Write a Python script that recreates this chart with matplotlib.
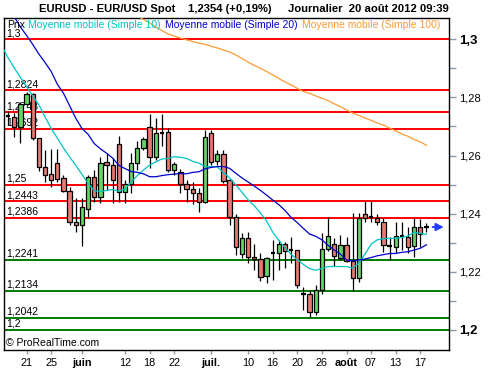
import numpy as np
import pandas as pd
import matplotlib
matplotlib.use("Agg")
import matplotlib.pyplot as plt
from matplotlib.patches import Rectangle
from matplotlib.transforms import blended_transform_factory
from matplotlib.ticker import FixedLocator, FuncFormatter

plt.rcParams['font.family'] = ['Liberation Sans', 'DejaVu Sans']

nan = np.nan
dates = pd.bdate_range("2012-05-15", "2012-08-20")

opens = [nan, 1.2738, 1.2732, 1.2697, 1.2777, 1.2812, 1.2659, 1.2560, 1.2537, 1.2573,
         1.2522, 1.2479, 1.2373, 1.2361, 1.2415, 1.2525, 1.2459, 1.2576, 1.2568, 1.2640,
         1.2476, 1.2502, 1.2575, 1.2626, 1.2698, 1.2595, 1.2678, 1.2681, 1.2550, 1.2543,
         1.2502, 1.2485, 1.2471, 1.2440, 1.2678, 1.2581, 1.2605, 1.2516, 1.2390, 1.2261,
         1.2315, 1.2252, 1.2243, 1.2186, 1.2267, 1.2264, 1.2296, 1.2275, 1.2275, 1.2123,
         1.2124, 1.2060, 1.2138, 1.2279, 1.2295, 1.2247, 1.2292, 1.2237, 1.2178, 1.2399,
         1.2388, 1.2386, 1.2370, 1.2290, 1.2287, 1.2324, 1.2321, 1.2290, 1.2355, 1.2350]
highs = [nan, 1.2753, 1.2746, 1.2785, 1.2820, 1.2816, 1.2660, 1.2619, 1.2623, 1.2624,
         1.2533, 1.2493, 1.2454, 1.2453, 1.2533, 1.2550, 1.2596, 1.2609, 1.2592, 1.2667,
         1.2516, 1.2609, 1.2650, 1.2664, 1.2743, 1.2729, 1.2743, 1.2695, 1.2578, 1.2554,
         1.2516, 1.2509, 1.2488, 1.2688, 1.2688, 1.2619, 1.2619, 1.2520, 1.2399, 1.2333,
         1.2338, 1.2296, 1.2264, 1.2252, 1.2310, 1.2310, 1.2304, 1.2321, 1.2276, 1.2147,
         1.2138, 1.2155, 1.2333, 1.2390, 1.2316, 1.2327, 1.2321, 1.2401, 1.2401, 1.2444,
         1.2444, 1.2398, 1.2384, 1.2321, 1.2370, 1.2372, 1.2355, 1.2384, 1.2382, 1.2367]
lows = [nan, 1.2705, 1.2664, 1.2643, 1.2775, 1.2654, 1.2545, 1.2510, 1.2493, 1.2510,
        1.2473, 1.2361, 1.2338, 1.2289, 1.2384, 1.2441, 1.2438, 1.2482, 1.2437, 1.2440,
        1.2438, 1.2471, 1.2550, 1.2619, 1.2557, 1.2585, 1.2633, 1.2543, 1.2533, 1.2471,
        1.2440, 1.2433, 1.2406, 1.2437, 1.2568, 1.2568, 1.2505, 1.2361, 1.2258, 1.2247,
        1.2231, 1.2206, 1.2170, 1.2161, 1.2172, 1.2206, 1.2212, 1.2229, 1.2143, 1.2069,
        1.2044, 1.2052, 1.2124, 1.2272, 1.2221, 1.2241, 1.2234, 1.2134, 1.2164, 1.2370,
        1.2370, 1.2361, 1.2269, 1.2241, 1.2264, 1.2275, 1.2264, 1.2252, 1.2287, 1.2336]
closes = [nan, 1.2735, 1.2697, 1.2777, 1.2812, 1.2659, 1.2560, 1.2533, 1.2516, 1.2519,
          1.2477, 1.2372, 1.2361, 1.2422, 1.2525, 1.2459, 1.2573, 1.2568, 1.2516, 1.2475,
          1.2501, 1.2575, 1.2626, 1.2657, 1.2595, 1.2678, 1.2676, 1.2550, 1.2571, 1.2502,
          1.2485, 1.2471, 1.2440, 1.2664, 1.2578, 1.2605, 1.2514, 1.2390, 1.2284, 1.2315,
          1.2252, 1.2243, 1.2183, 1.2247, 1.2266, 1.2296, 1.2273, 1.2274, 1.2155, 1.2122,
          1.2060, 1.2138, 1.2279, 1.2323, 1.2256, 1.2292, 1.2237, 1.2178, 1.2386, 1.2386,
          1.2387, 1.2370, 1.2292, 1.2289, 1.2324, 1.2323, 1.2287, 1.2355, 1.2329, 1.2354]

sma10 = [1.2975, 1.2936, 1.2901, 1.2869, 1.2837, 1.2805, 1.2774, 1.2733, 1.2693, 1.2660,
         1.2626, 1.2595, 1.2566, 1.2535, 1.2504, 1.2479, 1.2476, 1.2480, 1.2483, 1.2477,
         1.2485, 1.2509, 1.2531, 1.2550, 1.2567, 1.2578, 1.2588, 1.2590, 1.2596, 1.2594,
         1.2590, 1.2580, 1.2574, 1.2562, 1.2562, 1.2561, 1.2541, 1.2523, 1.2499, 1.2474,
         1.2448, 1.2427, 1.2403, 1.2375, 1.2337, 1.2308, 1.2283, 1.2260, 1.2242, 1.2225,
         1.2211, 1.2205, 1.2212, 1.2218, 1.2218, 1.2218, 1.2218, 1.2213, 1.2230, 1.2261,
         1.2295, 1.2310, 1.2314, 1.2315, 1.2315, 1.2318, 1.2323, 1.2336, 1.2332, 1.2329]
sma20 = [nan, nan, 1.3077, 1.3042, 1.3013, 1.2982, 1.2949, 1.2920, 1.2889, 1.2845,
         1.2814, 1.2771, 1.2728, 1.2693, 1.2673, 1.2641, 1.2623, 1.2608, 1.2591, 1.2566,
         1.2555, 1.2545, 1.2542, 1.2537, 1.2527, 1.2527, 1.2531, 1.2534, 1.2536, 1.2538,
         1.2537, 1.2542, 1.2544, 1.2554, 1.2559, 1.2562, 1.2562, 1.2556, 1.2539, 1.2523,
         1.2509, 1.2495, 1.2480, 1.2464, 1.2447, 1.2431, 1.2411, 1.2387, 1.2369, 1.2349,
         1.2330, 1.2322, 1.2310, 1.2291, 1.2275, 1.2261, 1.2241, 1.2237, 1.2241, 1.2244,
         1.2249, 1.2255, 1.2259, 1.2263, 1.2263, 1.2267, 1.2269, 1.2275, 1.2281, 1.2293]
sma100 = [nan] * 22 + [1.3080, 1.3068, 1.3056, 1.3042, 1.3030, 1.3018, 1.3011, 1.3004,
                       1.2998, 1.2992, 1.2987, 1.2982, 1.2976, 1.2970, 1.2963, 1.2956,
                       1.2946, 1.2934, 1.2921, 1.2910, 1.2900, 1.2889, 1.2877, 1.2865,
                       1.2853, 1.2843, 1.2831, 1.2820, 1.2814, 1.2805, 1.2797, 1.2789,
                       1.2778, 1.2768, 1.2757, 1.2746, 1.2738, 1.2729, 1.2721, 1.2712,
                       1.2705, 1.2694, 1.2685, 1.2674, 1.2666, 1.2655, 1.2647, 1.2635]

levels_red = [1.3, 1.2824, 1.2748, 1.2692, 1.25, 1.2443, 1.2386]
levels_green = [1.2241, 1.2134, 1.2042, 1.2]

tick_dates = ["2012-05-21", "2012-05-25", "2012-06-01", "2012-06-12", "2012-06-18",
              "2012-06-22", "2012-07-02", "2012-07-10", "2012-07-16", "2012-07-20",
              "2012-07-26", "2012-08-01", "2012-08-07", "2012-08-13", "2012-08-17"]
tick_labels = ["21", "25", "juin", "12", "18", "22", "juil.", "10", "16", "20", "26",
               "août", "07", "13", "17"]
month_labels = ["juin", "juil.", "août"]

y_major = [1.20, 1.22, 1.24, 1.26, 1.28, 1.30]
y_minor = [1.21, 1.23, 1.25, 1.27, 1.29]

# ---------------------------------------------------------------------------
fig = plt.figure(figsize=(5, 3.7), dpi=100)
W, H = 500, 370
ax = fig.add_axes([4 / W, 1 - 350 / H, 445 / W, 332 / H])

o = np.array(opens); h = np.array(highs); l = np.array(lows); c = np.array(closes)
pos = np.arange(len(dates))

# support / resistance levels
blend = blended_transform_factory(ax.transAxes, ax.transData)
for lv in levels_red:
    ax.axhline(lv, color='#ff0000', lw=1.4, zorder=1)
for lv in levels_green:
    ax.axhline(lv, color='#007a00', lw=1.4, zorder=1)
for lv in levels_red + levels_green:
    lab = ('%.4f' % lv).rstrip('0').rstrip('.').replace('.', ',')
    ax.annotate(lab, xy=(0.004, lv), xycoords=blend, xytext=(0, 0.8),
                textcoords='offset points', ha='left', va='bottom',
                fontsize=7.5, color='black', zorder=1.5)

# candles
bw = 0.7
for i in pos:
    if np.isnan(o[i]):
        continue
    ax.plot([i, i], [l[i], h[i]], color='black', lw=0.9, zorder=3,
            solid_capstyle='butt')
    if abs(c[i] - o[i]) < 0.0005:
        ax.plot([i - bw / 2, i + bw / 2], [c[i], c[i]], color='black', lw=1.6,
                zorder=4, solid_capstyle='butt')
    else:
        col = '#66d466' if c[i] > o[i] else '#e87a74'
        lo, hi = min(o[i], c[i]), max(o[i], c[i])
        ax.add_patch(Rectangle((i - bw / 2, lo), bw, hi - lo, facecolor=col,
                               edgecolor='black', lw=0.9, zorder=4))

# moving averages
ax.plot(pos, sma10, color='#00c4c4', lw=0.9, zorder=5)
ax.plot(pos, sma20, color='#0000cc', lw=0.9, zorder=5)
ax.plot(pos, sma100, color='#ff9933', lw=0.9, zorder=5)

# last price arrow
last = len(pos) - 1
ax.annotate('', xy=(last + 2.8, c[last]), xytext=(last + 1.0, c[last]),
            arrowprops=dict(arrowstyle='-|>', color='#1f3cff', lw=1.4,
                            mutation_scale=11, shrinkA=0, shrinkB=0), zorder=6)

ax.set_xlim(0.33, 72.66)
ax.set_ylim(1.1931, 1.3073)

# y axis on the right
ax.yaxis.tick_right()
ax.yaxis.set_major_locator(FixedLocator(y_major))
ax.yaxis.set_minor_locator(FixedLocator(y_minor))
ax.yaxis.set_major_formatter(FuncFormatter(
    lambda v, p: ('%.2f' % v).rstrip('0').rstrip('.').replace('.', ',')))
ax.tick_params(axis='y', which='both', direction='out', length=5, width=1,
               color='#8a9aaa', labelsize=8, pad=2)
for t in ax.get_yticklabels():
    if t.get_text() in ('1,3', '1,2'):
        t.set_fontweight('bold')
        t.set_fontsize(9.5)

# x axis
date_idx = {d.strftime('%Y-%m-%d'): k for k, d in enumerate(dates)}
ax.set_xticks([date_idx[d] for d in tick_dates])
ax.set_xticklabels(tick_labels)
ax.tick_params(axis='x', which='both', direction='out', length=3, width=1,
               color='#8a9aaa', labelsize=7.8, pad=3)
for t in ax.get_xticklabels():
    if t.get_text() in month_labels:
        t.set_fontweight('bold')

for s in ax.spines.values():
    s.set_color('black')
    s.set_linewidth(1)

# header
ty = 1 - 9 / H
fig.text(39 / W, ty, "EURUSD - EUR/USD Spot", fontsize=8.1, fontweight='bold', va='center')
fig.text(188 / W, ty, "1,2354 (+0,19%)", fontsize=8.1, fontweight='bold', va='center')
fig.text(288 / W, ty, "Journalier  20 août 2012 09:39", fontsize=8.1, fontweight='bold',
         va='center')

ly = 1 - 24.8 / H
fig.text(7 / W, ly, "Prix", fontsize=7.5, color='black', va='center')
fig.text(28 / W, ly, "Moyenne mobile (Simple 10)", fontsize=7.5, color='#00c4c4', va='center')
fig.text(165 / W, ly, "Moyenne mobile (Simple 20)", fontsize=7.5, color='#0000cc', va='center')
fig.text(302 / W, ly, "Moyenne mobile (Simple 100)", fontsize=7.5, color='#ff9933', va='center')

fig.text(6 / W, 1 - 343 / H, "© ProRealTime.com", fontsize=7.5, color='black', va='center')

fig.savefig("out.png", dpi=100)
